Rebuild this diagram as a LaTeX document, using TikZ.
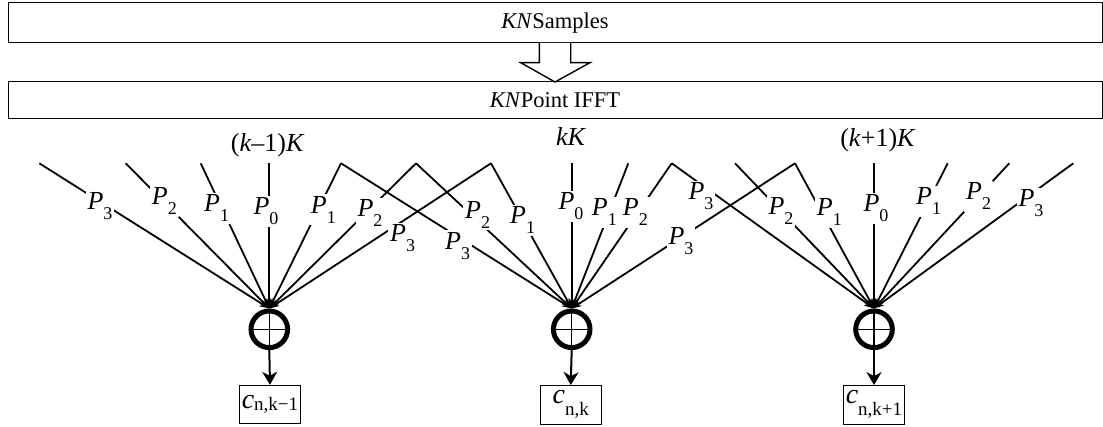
\documentclass[tikz,border=0pt]{standalone}
\usepackage{fontspec}
\setmainfont{Liberation Serif}
\usetikzlibrary{arrows.meta}
\newcommand{\Pn}[1]{\textit{P}\raisebox{-10pt}{\fontsize{18}{18}\selectfont #1}}
\begin{document}
\begin{tikzpicture}[x=1pt,y=-1pt,
  bigbox/.style={draw, line width=1pt, inner sep=0pt, font=\fontsize{22.5}{22.5}\selectfont},
  ray/.style={line width=1.8pt, -{Stealth[length=10pt,width=7pt]}},
  plab/.style={fill=white, inner sep=2pt, anchor=base west, font=\fontsize{26}{26}\selectfont},
  klab/.style={inner sep=0pt, anchor=base, font=\fontsize{26}{26}\selectfont},
  sumnode/.style={circle, draw, line width=5pt, minimum size=36.6pt, inner sep=0pt},
  outbox/.style={draw, line width=0.9pt, inner sep=0pt, minimum width=61pt, minimum height=38.5pt},
  outarrow/.style={line width=2pt, -{Stealth[length=13pt,width=15pt,inset=4pt]}},
  hollow/.style={draw, line width=1.4pt, fill=white}
]
\useasboundingbox (0,0) rectangle (1103,427);

% top boxes
\node[bigbox, minimum width=1094pt, minimum height=40pt] (samples) at (555,23) {\textit{KN}Samples};
\node[bigbox, minimum width=1094pt, minimum height=37pt] (ifft) at (555,100.5) {\textit{KN}Point IFFT};
\draw[hollow] (539.3,43) -- (539.3,62.7) -- (520.7,62.7) -- (555,82) -- (590,62.7) -- (570.7,62.7) -- (570.7,43);

% group labels
\node[klab] (lk1) at (267.7,151.7) {(\textit{k}–1)\textit{K}};
\node[klab] (lk2) at (571,146) {\textit{kK}};
\node[klab] (lk3) at (878,147) {(\textit{k}+1)\textit{K}};

% summing nodes
\node[sumnode] (s1) at (269.3,329.3) {};
\node[sumnode] (s2) at (571.7,329.3) {};
\node[sumnode] (s3) at (874,329.3) {};
\foreach \s in {s1,s2,s3}{
  \draw[line width=1.2pt] ([yshift=17pt]\s.center) -- ([yshift=-17pt]\s.center);
  \draw[line width=1.2pt] ([xshift=-17pt]\s.center) -- ([xshift=17pt]\s.center);
}

% top ends of the rays
\coordinate (T01) at (39.3,163.3);
\coordinate (T02) at (125.7,163.3);
\coordinate (T03) at (200.7,163.3);
\coordinate (T04) at (269.3,163.3);
\coordinate (T05) at (341,163.3);
\coordinate (T06) at (416,163.3);
\coordinate (T07) at (491,163.3);
\coordinate (T08) at (571.7,163.3);
\coordinate (T09) at (628.3,163.3);
\coordinate (T10) at (671.7,163.3);
\coordinate (T11) at (735,163.3);
\coordinate (T12) at (795,163.3);
\coordinate (T13) at (874,163.3);
\coordinate (T14) at (947.7,163.3);
\coordinate (T15) at (1009.3,163.3);
\coordinate (T16) at (1073.3,163.3);

% rays
\foreach \t in {T01,T02,T03,T04,T05,T06,T07}{\draw[ray] (\t) -- (s1.north);}
\foreach \t in {T05,T06,T07,T08,T09,T10,T12}{\draw[ray] (\t) -- (s2.north);}
\foreach \t in {T10,T11,T12,T13,T14,T15,T16}{\draw[ray] (\t) -- (s3.north);}

% P labels
\node[plab] (a1) at (85.3,209.3) {\Pn{3}};
\node[plab] (a2) at (149.7,205) {\Pn{2}};
\node[plab] (a3) at (202,211.7) {\Pn{1}};
\node[plab] (a4) at (251.3,215) {\Pn{0}};
\node[plab] (a5) at (308.7,213.3) {\Pn{1}};
\node[plab] (a6) at (355.3,216.7) {\Pn{2}};
\node[plab] (a7) at (388,241.7) {\Pn{3}};

\node[plab] (b1) at (443,249.3) {\Pn{3}};
\node[plab] (b2) at (463,218.3) {\Pn{2}};
\node[plab] (b3) at (508,224) {\Pn{1}};
\node[plab] (b4) at (556.3,210) {\Pn{0}};
\node[plab] (b5) at (589.7,216) {\Pn{1}};
\node[plab] (b6) at (620.7,216) {\Pn{2}};
\node[plab] (b7) at (666.3,244.3) {\Pn{3}};

\node[plab] (c1) at (686.3,200) {\Pn{3}};
\node[plab] (c2) at (766.3,215) {\Pn{2}};
\node[plab] (c3) at (814.7,216) {\Pn{1}};
\node[plab] (c4) at (861.3,211.7) {\Pn{0}};
\node[plab] (c5) at (914,205) {\Pn{1}};
\node[plab] (c6) at (964,200) {\Pn{2}};
\node[plab] (c7) at (1016.3,206.7) {\Pn{3}};

% output boxes
\node[outbox] (o1) at (270,404.5) {\fontsize{28}{28}\selectfont\textit{c}\raisebox{-2pt}{\fontsize{19}{19}\selectfont n,k−1}};
\node[outbox] (o2) at (570.7,404.8) {\fontsize{28}{28}\selectfont\textit{c}\raisebox{-12pt}{\fontsize{19}{19}\selectfont n,k}};
\node[outbox] (o3) at (874,404.8) {\fontsize{28}{28}\selectfont\textit{c}\raisebox{-12pt}{\fontsize{19}{19}\selectfont n,k+1}};

\draw[outarrow] (s1.south) -- (o1.north);
\draw[outarrow] (s2.south) -- (o2.north);
\draw[outarrow] (s3.south) -- (o3.north);
\end{tikzpicture}
\end{document}
